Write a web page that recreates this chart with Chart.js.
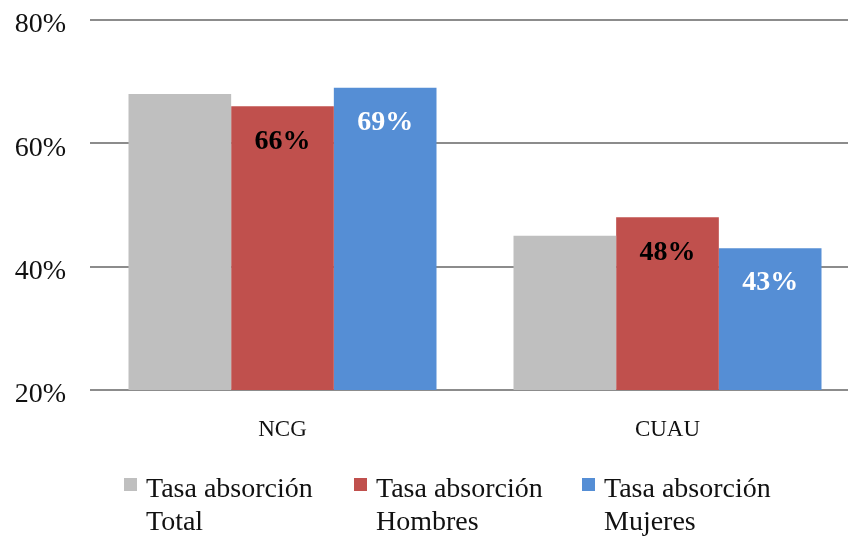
<!DOCTYPE html>
<html>
<head>
<meta charset="utf-8">
<script src="https://cdn.jsdelivr.net/npm/chart.js@4/dist/chart.umd.min.js"></script>
<style>
  html, body { margin: 0; padding: 0; background: #fff; }
  #wrap { width: 848px; height: 537px; position: relative; overflow: hidden; }
</style>
</head>
<body>
<div id="wrap"><canvas id="c" width="860" height="537"></canvas></div>
<script>
// Categories and series (percent)
const categories = ['NCG', 'CUAU'];
const seriesNames = [['Tasa absorción', 'Total'], ['Tasa absorción', 'Hombres'], ['Tasa absorción', 'Mujeres']];
const totalValues = [68, 45];
const hombresValues = [66, 48];
const mujeresValues = [69, 43];
const yTicks = [20, 40, 60, 80];

const colors = ['#BFBFBF', '#C0504D', '#558ED5'];
const labelColors = [null, '#000000', '#FFFFFF'];
const SERIF = '"Liberation Serif", "Times New Roman", serif';

// Value labels inside the top of the Hombres and Mujeres bars
const barLabels = {
  id: 'barLabels',
  afterDatasetsDraw(chart) {
    const ctx = chart.ctx;
    ctx.save();
    ctx.font = 'bold 28px ' + SERIF;
    ctx.textAlign = 'center';
    ctx.textBaseline = 'middle';
    chart.data.datasets.forEach((ds, i) => {
      if (!labelColors[i]) return;
      const meta = chart.getDatasetMeta(i);
      meta.data.forEach((bar, j) => {
        ctx.fillStyle = labelColors[i];
        ctx.fillText(Math.round(ds.data[j]) + '%', bar.x, bar.y + 35);
      });
    });
    ctx.restore();
  }
};

// Percent labels of the value axis, set a little below each grid line
const yLabels = {
  id: 'yLabels',
  afterDraw(chart) {
    const ctx = chart.ctx;
    const y = chart.scales.y;
    ctx.save();
    ctx.font = '28px ' + SERIF;
    ctx.fillStyle = '#111';
    ctx.textAlign = 'right';
    ctx.textBaseline = 'middle';
    yTicks.forEach(v => ctx.fillText(v + '%', 66, y.getPixelForValue(v) + 5));
    ctx.restore();
  }
};

// Two-line legend under the axis
const bottomLegend = {
  id: 'bottomLegend',
  afterDraw(chart) {
    const ctx = chart.ctx;
    const boxX = [124, 354, 582];
    ctx.save();
    ctx.font = '28px ' + SERIF;
    ctx.textAlign = 'left';
    ctx.textBaseline = 'alphabetic';
    chart.data.datasets.forEach((ds, i) => {
      ctx.fillStyle = ds.backgroundColor;
      ctx.fillRect(boxX[i], 478, 13, 13);
      ctx.fillStyle = '#111';
      const lines = seriesNames[i];
      ctx.fillText(lines[0], boxX[i] + 22, 497);
      ctx.fillText(lines[1], boxX[i] + 22, 530);
    });
    ctx.restore();
  }
};

new Chart(document.getElementById('c'), {
  type: 'bar',
  data: {
    labels: categories,
    datasets: [
      { label: seriesNames[0].join(' '), data: totalValues, backgroundColor: colors[0] },
      { label: seriesNames[1].join(' '), data: hombresValues, backgroundColor: colors[1] },
      { label: seriesNames[2].join(' '), data: mujeresValues, backgroundColor: colors[2] }
    ]
  },
  options: {
    responsive: false,
    animation: false,
    events: [],
    layout: { autoPadding: false, padding: { top: 20, right: 0, bottom: 0, left: 0 } },
    datasets: { bar: { categoryPercentage: 0.8, barPercentage: 1.0, borderWidth: 0 } },
    plugins: {
      legend: { display: false },
      tooltip: { enabled: false }
    },
    scales: {
      x: {
        grid: { display: false, drawTicks: false },
        border: { display: false },
        ticks: { font: { family: SERIF, size: 23 }, color: '#111', padding: 26 },
        afterFit(s) { s.height = 147; }
      },
      y: {
        min: 20,
        max: 80,
        afterBuildTicks(s) { s.ticks = yTicks.map(v => ({ value: v })); },
        grid: { color: '#8C8C8C', lineWidth: 2, drawTicks: false },
        border: { display: false },
        ticks: { display: false },
        afterFit(s) { s.width = 90; s.paddingTop = 0; s.paddingBottom = 0; }
      }
    }
  },
  plugins: [barLabels, yLabels, bottomLegend]
});
</script>
</body>
</html>
